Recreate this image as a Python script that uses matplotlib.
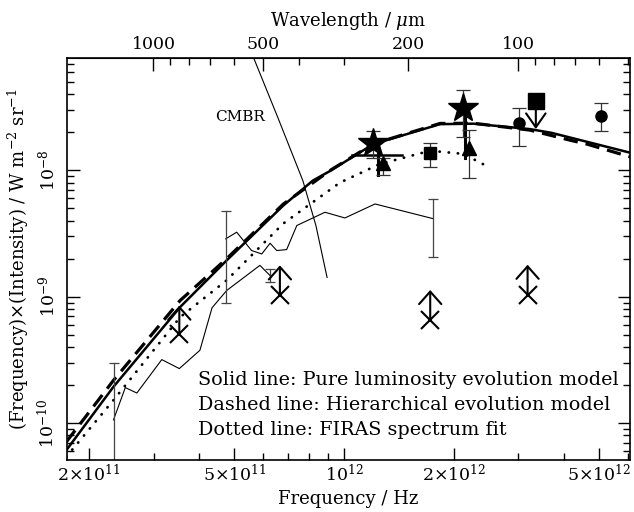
import numpy as np
import matplotlib
matplotlib.use("Agg")
import matplotlib.pyplot as plt
from matplotlib.ticker import FixedLocator, NullFormatter

plt.rcParams['font.family'] = 'DejaVu Serif'
plt.rcParams['mathtext.fontset'] = 'dejavuserif'

# model curves (frequency in Hz, nu*I_nu in W m^-2 sr^-1)
solid_f = [1.73e11, 2.33e11, 3.55e11, 4.76e11, 6.8e11, 8.2e11, 9.15e11, 1.20e12, 1.83e12, 2.26e12, 3.23e12, 3.7e12, 6.07e12]
solid_i = [6.1e-11, 1.94e-10, 8.3e-10, 1.94e-9, 5.26e-9, 8.3e-9, 9.9e-9, 1.61e-8, 2.32e-8, 2.34e-8, 2.12e-8, 1.98e-8, 1.38e-8]

dash_f = [1.73e11, 2.33e11, 3.55e11, 4.76e11, 6.8e11, 9.15e11, 1.20e12, 1.83e12, 2.26e12, 3.23e12, 4.2e12, 4.6e12, 6.07e12]
dash_i = [7.1e-11, 2.18e-10, 9.35e-10, 2.0e-9, 5.4e-9, 1.0e-8, 1.62e-8, 2.35e-8, 2.36e-8, 2.08e-8, 1.72e-8, 1.62e-8, 1.28e-8]

dot_f = [1.73e11, 2.33e11, 3.55e11, 4.76e11, 6.8e11, 9.73e11, 1.25e12, 1.72e12, 2.12e12, 2.40e12]
dot_i = [5.42e-11, 1.52e-10, 6.9e-10, 1.35e-9, 3.79e-9, 8.0e-9, 1.12e-8, 1.43e-8, 1.35e-8, 1.12e-8]

cmbr_f = [5.66e11, 6.58e11, 7.70e11, 8.36e11, 8.97e11]
cmbr_i = [7.6e-8, 2.6e-8, 8.28e-9, 3.66e-9, 1.42e-9]

# thin jagged spectra
low_f = [2.33e11, 2.51e11, 2.70e11, 3.16e11, 3.53e11, 4.02e11, 4.34e11, 4.76e11, 5.87e11, 6.26e11]
low_i = [1.06e-10, 1.91e-10, 1.73e-10, 3.18e-10, 2.70e-10, 3.77e-10, 8.18e-10, 1.12e-9, 1.77e-9, 1.47e-9]
up_f = [4.73e11, 5.07e11, 5.57e11, 5.94e11, 6.26e11, 6.53e11, 6.95e11, 7.41e11, 8.85e11, 1.004e12, 1.214e12, 1.75e12]
up_i = [2.87e-9, 3.24e-9, 2.32e-9, 2.18e-9, 2.65e-9, 2.32e-9, 2.36e-9, 3.66e-9, 4.66e-9, 4.20e-9, 5.42e-9, 4.15e-9]

# end error bars of the thin spectra: freq, low, high
thin_err_f = [2.33e11, 6.26e11, 4.73e11, 1.75e12]
thin_err_lo = [1e-11, 1.30e-9, 8.9e-10, 2.08e-9]
thin_err_hi = [2.99e-10, 1.67e-9, 4.80e-9, 5.97e-9]

# measured points
star_f = [1.201e12, 2.12e12]
star_i = [1.66e-8, 3.13e-8]
star_lo = [1.26e-8, 1.84e-8]
star_hi = [2.03e-8, 4.31e-8]

tri_f = [1.279e12, 2.20e12]
tri_i = [1.135e-8, 1.50e-8]
tri_lo = [9.2e-9, 8.7e-9]
tri_hi = [1.26e-8, 2.09e-8]

sq_f = [1.718e12]
sq_i = [1.36e-8]
sq_lo = [1.07e-8]
sq_hi = [1.64e-8]

circ_f = [3.02e12, 5.05e12]
circ_i = [2.38e-8, 2.70e-8]
circ_lo = [1.56e-8, 2.03e-8]
circ_hi = [3.13e-8, 3.39e-8]

# upper limit square
ul_f = 3.35e12
ul_i = 3.54e-8
ul_tip = 2.12e-8

# lower limits (X with up arrow)
ll_f = [3.53e11, 6.66e11, 1.72e12, 3.18e12]
ll_i = [5.03e-10, 1.04e-9, 6.58e-10, 1.04e-9]
ll_tip = [8.5e-10, 1.77e-9, 1.13e-9, 1.79e-9]

xticks = [2e11, 5e11, 1e12, 2e12, 5e12]
xtick_labels = [r'$2{\times}10^{11}$', r'$5{\times}10^{11}$', r'$10^{12}$', r'$2{\times}10^{12}$', r'$5{\times}10^{12}$']
yticks = [1e-10, 1e-9, 1e-8]
ytick_labels = [r'$10^{-10}$', r'$10^{-9}$', r'$10^{-8}$']
wl_major = [1000, 500, 200, 100]
wl_minor = [900, 800, 700, 600, 400, 300, 90, 80, 70, 60, 50]

fig = plt.figure(figsize=(6.34, 5.12), dpi=100)
ax = fig.add_axes([0.1052, 0.1025, 0.8885, 0.7836])
ax.set_xscale('log')
ax.set_yscale('log')
ax.set_xlim(1.734e11, 6.07e12)
ax.set_ylim(5.15e-11, 7.7e-8)

ax.plot(solid_f, solid_i, color='black', lw=1.8, solid_capstyle='butt')
ax.plot(dash_f, dash_i, color='black', lw=2.3, linestyle=(0, (4.5, 2.5)))
ax.plot(dot_f, dot_i, color='black', lw=2.0, linestyle=(0, (0.1, 3.2)), dash_capstyle='round')
ax.plot(cmbr_f, cmbr_i, color='black', lw=0.8)
ax.plot(low_f, low_i, color='black', lw=0.8)
ax.plot(up_f, up_i, color='black', lw=0.8)

for f, lo, hi in zip(thin_err_f, thin_err_lo, thin_err_hi):
    ax.plot([f, f], [lo, hi], color='#444444', lw=0.9)
    ax.plot([f], [hi], marker='_', color='#444444', ms=7, mew=0.9)
    ax.plot([f], [lo], marker='_', color='#444444', ms=7, mew=0.9)

def errbars(fs, vals, los, his, marker, ms):
    yerr = [np.array(vals) - np.array(los), np.array(his) - np.array(vals)]
    ax.errorbar(fs, vals, yerr=yerr, fmt='none', ecolor='#333333', elinewidth=0.9, capsize=5, capthick=0.9)
    ax.plot(fs, vals, linestyle='none', marker=marker, ms=ms, color='black')

# thick bars below the stars and the horizontal band
ax.plot([1.24e12, 1.24e12], [1.43e-8, 9.2e-9], color='black', lw=2.2)
ax.plot([2.14e12, 2.14e12], [3.13e-8, 1.26e-8], color='black', lw=2.2)
ax.plot([1.048e12, 1.436e12], [1.32e-8, 1.32e-8], color='black', lw=1.8)

errbars(star_f, star_i, star_lo, star_hi, '*', 22)
errbars(tri_f, tri_i, tri_lo, tri_hi, '^', 10)
errbars(sq_f, sq_i, sq_lo, sq_hi, 's', 9)
errbars(circ_f, circ_i, circ_lo, circ_hi, 'o', 8)

ax.plot([ul_f], [ul_i], marker='s', ms=11, color='black', linestyle='none')
ax.annotate('', xy=(ul_f, ul_tip), xytext=(ul_f, ul_i),
            arrowprops=dict(arrowstyle='->,head_length=0.5,head_width=0.35', lw=1.5, color='black',
                            shrinkA=0, shrinkB=0, mutation_scale=20))

for f, v, tip in zip(ll_f, ll_i, ll_tip):
    ax.plot([f], [v], marker='x', ms=13, mew=1.5, color='black', linestyle='none')
    ax.annotate('', xy=(f, tip), xytext=(f, v),
                arrowprops=dict(arrowstyle='->,head_length=0.45,head_width=0.4', lw=1.5, color='black',
                                shrinkA=0, shrinkB=0, mutation_scale=20))

# ticks
ax.set_xticks(xticks)
ax.set_xticklabels(xtick_labels, fontsize=12.5)
ax.xaxis.set_minor_locator(FixedLocator([3e11, 4e11, 6e11, 7e11, 8e11, 9e11, 3e12, 4e12, 6e12]))
ax.xaxis.set_minor_formatter(NullFormatter())
ax.set_yticks(yticks)
ax.set_yticklabels(ytick_labels, fontsize=12.5, rotation=90, va='center')
ax.tick_params(which='major', direction='in', length=9, width=1, top=False, right=True)
ax.tick_params(which='minor', direction='in', length=5, width=1, top=False, right=True)
ax.tick_params(axis='x', which='major', pad=3)
ax.tick_params(axis='y', which='major', pad=6)

def f2w(f):
    with np.errstate(divide='ignore'):
        return 2.998e14 / np.asarray(f, dtype=float)

top = ax.secondary_xaxis('top', functions=(f2w, f2w))
top.xaxis.set_major_locator(FixedLocator(wl_major))
top.xaxis.set_minor_locator(FixedLocator(wl_minor))
top.xaxis.set_minor_formatter(NullFormatter())
top.set_xticklabels([str(w) for w in wl_major], fontsize=12.5)
top.tick_params(which='major', direction='in', length=9, width=1, pad=4)
top.tick_params(which='minor', direction='in', length=5, width=1)
top.set_xlabel(r'Wavelength / $\mu$m', fontsize=13, labelpad=7)

for sp in ax.spines.values():
    sp.set_linewidth(1.2)

ax.set_xlabel('Frequency / Hz', fontsize=13, labelpad=4)
ax.set_ylabel(r'(Frequency)$\times$(Intensity) / W m$^{-2}$ sr$^{-1}$', fontsize=13, labelpad=4)

ax.text(0.308, 0.854, 'CMBR', transform=ax.transAxes, fontsize=11, ha='center', va='center')
ax.text(0.233, 0.198, 'Solid line: Pure luminosity evolution model', transform=ax.transAxes, fontsize=13.8, va='center')
ax.text(0.233, 0.136, 'Dashed line: Hierarchical evolution model', transform=ax.transAxes, fontsize=13.8, va='center')
ax.text(0.233, 0.0735, 'Dotted line: FIRAS spectrum fit', transform=ax.transAxes, fontsize=13.8, va='center')

fig.savefig('out.png', dpi=100)
